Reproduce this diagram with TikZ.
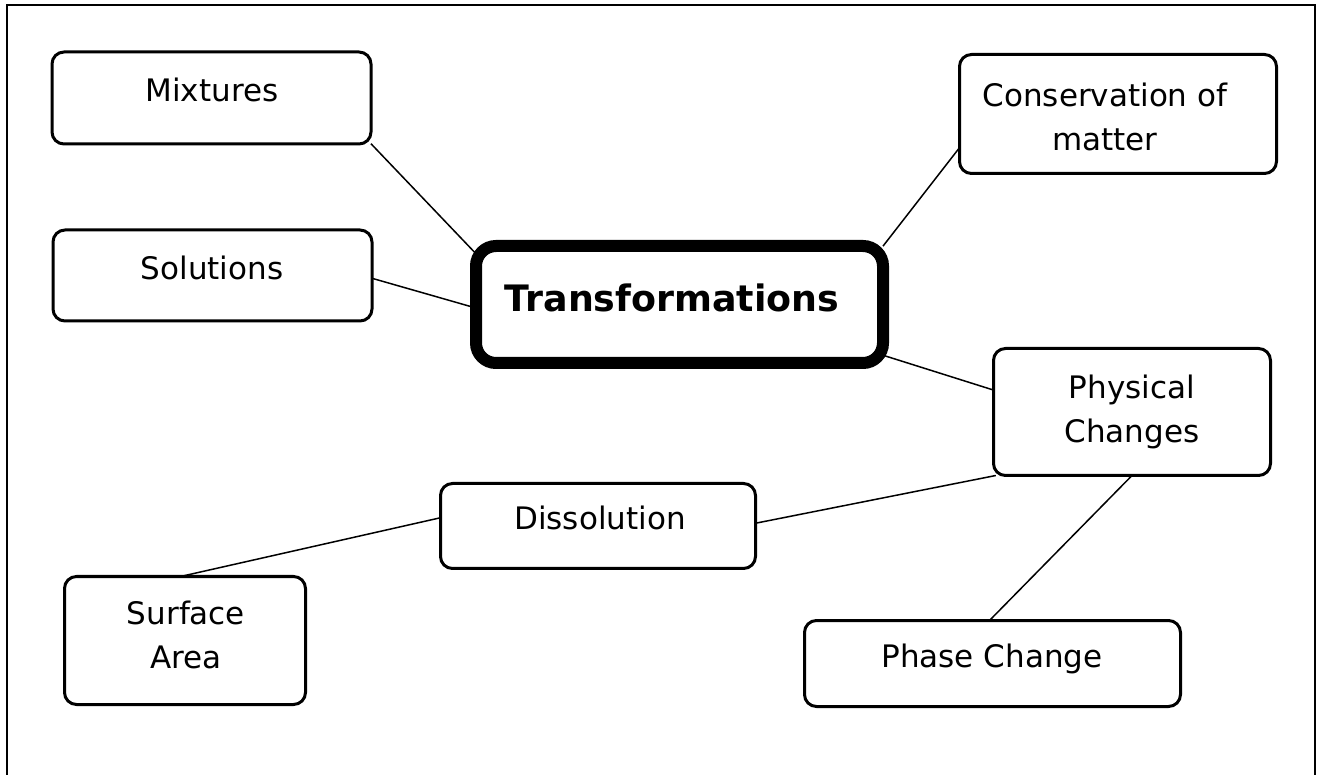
\documentclass[tikz,border=0pt]{standalone}
\usepackage{fontspec}
\setmainfont{DejaVu Sans}
\begin{document}
\begin{tikzpicture}[x=0.5pt,y=-0.5pt,
  box/.style={draw, line width=1.5pt, rounded corners=6pt, inner sep=0pt, outer sep=0pt},
  mainbox/.style={draw, line width=6pt, rounded corners=10pt, inner sep=0pt, outer sep=0pt},
  lbl/.style={inner sep=0pt, font=\fontsize{15.5}{22}\selectfont, align=center},
  title/.style={inner sep=0pt, font=\fontsize{18.2}{22}\selectfont\bfseries},
  link/.style={line width=0.75pt}]
\useasboundingbox (0,0) rectangle (1319,775);
\draw[line width=1.25pt] (7,810) -- (7,5) -- (1315,5) -- (1315,810);
% boxes
\node[box, minimum width=159.5pt, minimum height=46pt] (mix) at (211.5,98) {};
\node[box, minimum width=159.5pt, minimum height=45.5pt] (sol) at (212.5,275.5) {};
\node[mainbox, minimum width=203.5pt, minimum height=58.5pt] (tra) at (679.5,304.5) {};
\node[box, minimum width=158.5pt, minimum height=59.5pt] (con) at (1118,114) {};
\node[box, minimum width=138.5pt, minimum height=63.5pt] (phy) at (1132,412) {};
\node[box, minimum width=157.5pt, minimum height=42.5pt] (dis) at (598,526) {};
\node[box, minimum width=120.5pt, minimum height=64pt] (sur) at (185,640.5) {};
\node[box, minimum width=188pt, minimum height=43pt] (pha) at (992.5,663.5) {};
% texts
\node[lbl, anchor=base] (mixt) at (212,102) {Mixtures};
\node[lbl, anchor=base] (solt) at (212,280) {Solutions};
\node[title, anchor=base] (trat) at (672,312) {Transformations};
\node[lbl] (cont) at (1105,117) {Conservation of\\matter};
\node[lbl] (phyt) at (1132,412) {Physical\\Changes};
\node[lbl, anchor=base] (dist) at (600,530) {Dissolution};
\node[lbl] (surt) at (186,635) {Surface\\Area};
\node[lbl, anchor=base] (phat) at (992,668) {Phase Change};
% connectors
\draw[link] (mix.-16) -- (tra.166);
\draw[link] (sol.-1.6) -- (tra.181.5);
\draw[link] (con.192.6) -- (tra.16.9);
\draw[link] (tra.-14.1) -- (phy.171.9);
\draw[link] (phy.205) -- (dis.1.4);
\draw[link] (dis.177.8) -- (sur.94.4);
\draw[link] (phy.-90) -- (pha.94.5);
\end{tikzpicture}
\end{document}
